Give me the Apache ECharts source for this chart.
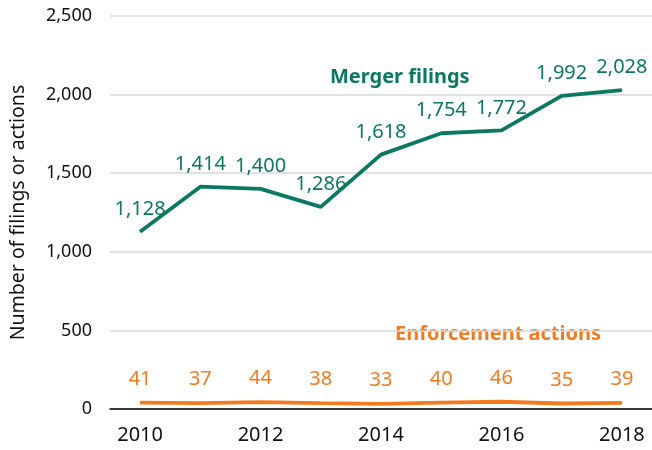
<!DOCTYPE html>
<html>
<head>
<meta charset="utf-8">
<script src="https://cdn.jsdelivr.net/npm/echarts@6/dist/echarts.min.js"></script>
<style>
  html, body { margin: 0; padding: 0; background: #fff; }
  #chart { width: 652px; height: 450px; }
</style>
</head>
<body>
<div id="chart"></div>
<script>
const years = ['2010', '2011', '2012', '2013', '2014', '2015', '2016', '2017', '2018']
const mergerFilings = [1128, 1414, 1400, 1286, 1618, 1754, 1772, 1992, 2028]
const enforcementActions = [41, 37, 44, 38, 33, 40, 46, 35, 39]

const green = '#0b7862'
const orange = '#f47a1f'
const font = 'Noto Sans'

const chart = echarts.init(document.getElementById('chart'))

chart.setOption({
  animation: false,
  textStyle: { fontFamily: font },
  grid: { left: 110, right: -3, top: 16, bottom: 41 },
  xAxis: {
    type: 'category',
    data: years,
    boundaryGap: true,
    axisLine: { lineStyle: { color: '#000', width: 1.5 } },
    axisTick: { show: false },
    axisLabel: { interval: 1, color: '#111', fontSize: 20, margin: 16, fontFamily: font }
  },
  yAxis: {
    type: 'value',
    min: 0,
    max: 2500,
    interval: 500,
    name: 'Number of filings or actions',
    nameLocation: 'middle',
    nameGap: 82,
    nameTextStyle: { color: '#111', fontSize: 19.5, fontFamily: font },
    axisLine: { show: false },
    axisTick: { show: false },
    axisLabel: {
      color: '#111', fontSize: 18, margin: 18, fontFamily: font,
      formatter: (v) => v.toLocaleString('en-US')
    },
    splitLine: { lineStyle: { color: '#d9d9d9', width: 1.5 } }
  },
  series: [
    {
      name: 'Merger filings',
      type: 'line',
      data: mergerFilings,
      symbol: 'circle',
      symbolSize: 1,
      itemStyle: { color: green },
      lineStyle: { color: green, width: 3.8 },
      label: {
        show: true,
        position: 'top',
        distance: 12,
        color: green,
        fontSize: 20,
        fontFamily: font,
        formatter: (p) => p.value.toLocaleString('en-US')
      }
    },
    {
      name: 'Enforcement actions',
      type: 'line',
      data: enforcementActions,
      symbol: 'circle',
      symbolSize: 1,
      itemStyle: { color: orange },
      lineStyle: { color: orange, width: 3.8 },
      label: {
        show: true,
        position: 'top',
        distance: 13,
        color: orange,
        fontSize: 20,
        fontFamily: font
      }
    }
  ],
  graphic: [
    {
      type: 'text',
      left: 330,
      top: 67,
      style: { text: 'Merger filings', fill: green, font: 'bold 20px "Noto Sans"' }
    },
    {
      type: 'text',
      left: 395,
      top: 324,
      style: {
        text: 'Enforcement actions', fill: orange, font: 'bold 20px "Noto Sans"',
        backgroundColor: '#fff'
      }
    }
  ]
})
</script>
</body>
</html>
